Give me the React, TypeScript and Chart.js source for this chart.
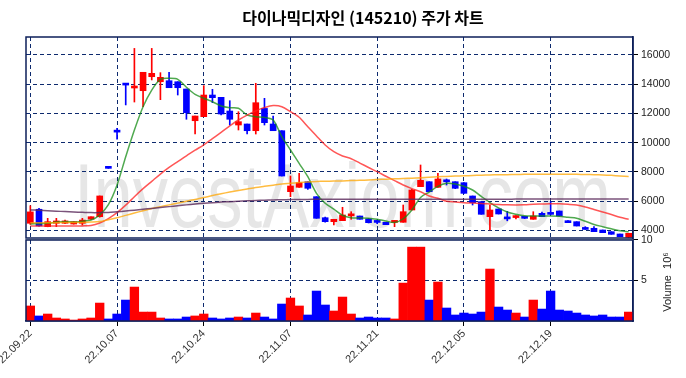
import { useEffect, useRef } from 'react';
import { Chart, registerables } from 'chart.js';

Chart.register(...registerables);

const dates = [
  '22.09.22','22.09.23','22.09.26','22.09.27','22.09.28','22.09.29','22.09.30','22.10.04','22.10.05','22.10.06',
  '22.10.07','22.10.11','22.10.12','22.10.13','22.10.14','22.10.17','22.10.18','22.10.19','22.10.20','22.10.21',
  '22.10.24','22.10.25','22.10.26','22.10.27','22.10.28','22.10.31','22.11.01','22.11.02','22.11.03','22.11.04',
  '22.11.07','22.11.08','22.11.09','22.11.10','22.11.11','22.11.14','22.11.15','22.11.16','22.11.17','22.11.18',
  '22.11.21','22.11.22','22.11.23','22.11.24','22.11.25','22.11.28','22.11.29','22.11.30','22.12.01','22.12.02',
  '22.12.05','22.12.06','22.12.07','22.12.08','22.12.09','22.12.12','22.12.13','22.12.14','22.12.15','22.12.16',
  '22.12.19','22.12.20','22.12.21','22.12.22','22.12.23','22.12.26','22.12.27','22.12.28','22.12.29','22.12.30',
];

const openPrices = [
  4480,5440,4250,4480,4480,4430,4480,4760,4930,8260,
  10740,13960,13740,13555,14513,14170,14240,14170,13670,11500,
  11776,13260,13100,12165,11207,11276,10817,12343,11276,10817,
  6642,6943,7326,6300,4862,4589,4657,4990,4979,4773,
  4560,4548,4540,4548,5389,6984,7326,6943,7340,7326,
  7258,6348,5958,4931,5458,4850,4870,4900,4753,5163,
  5110,5321,4657,4589,4080,4137,4020,3904,3747,3521,
];
const highPrices = [
  5680,5500,4820,4820,4700,4600,4820,4930,6350,8260,
  10980,13960,16450,14815,16450,14790,14815,14170,13670,11823,
  13900,13650,13100,12870,12118,11276,14062,13035,11823,10817,
  7716,7900,7326,6300,4900,4753,5574,5273,4979,4800,
  4700,4548,4650,5732,6806,8470,7326,7900,7511,7326,
  7258,6348,5958,5732,5458,5300,5000,4950,5273,5250,
  5958,5321,4657,4589,4250,4250,4020,3904,3747,3795,
];
const lowPrices = [
  4400,4290,4240,4250,4450,4420,4360,4750,4900,8240,
  10230,12580,12780,12460,14290,12940,13760,13260,11600,10590,
  11776,12734,11900,11207,10865,10590,10590,11207,10817,7716,
  6300,6943,6800,4821,4550,4363,4657,4753,4753,4500,
  4450,4383,4246,4548,5389,6984,6642,6943,7100,6850,
  6530,5730,5095,4020,5116,4650,4780,4800,4753,4931,
  5050,4979,4520,4294,4060,3904,3836,3726,3562,3500,
];
const closePrices = [
  5260,4300,4590,4640,4640,4590,4700,4930,6350,8240,
  10720,13940,13790,14815,14746,14472,13760,13760,12050,11823,
  13260,13076,11960,11600,11435,10817,12734,11365,10817,7716,
  7032,7258,6875,4821,4589,4753,5047,5010,4753,4520,
  4540,4383,4560,5273,6758,7420,6642,7511,7320,6875,
  6530,5889,5095,5389,5116,4780,4900,4820,4979,4931,
  5090,4979,4520,4294,4060,3904,3836,3726,3562,3795,
];

// volume in millions of shares
const volumes = [
  1.85,0.62,0.86,0.37,0.25,0.12,0.25,0.37,2.21,0.25,
  0.86,2.58,4.18,1.10,1.10,0.37,0.25,0.25,0.49,0.62,
  0.86,0.37,0.25,0.37,0.49,0.37,0.98,0.49,0.25,2.09,
  2.83,1.85,0.74,3.69,1.97,1.23,2.95,0.86,0.37,0.49,
  0.37,0.37,0.25,4.67,9.10,9.10,2.58,4.80,1.60,0.74,
  0.98,0.86,1.10,6.40,1.72,1.35,0.98,0.49,2.58,1.47,
  3.69,1.35,1.23,0.98,0.74,0.62,0.74,0.49,0.49,1.10,
];

const ma5 = [
  4430,4450,4480,4560,4600,4560,4620,4700,5050,5750,
  7100,9038,10865,12460,13600,14335,14400,14335,13790,13300,
  13035,12800,12508,12390,12350,11890,11776,11730,11550,10410,
  9496,8586,7670,6530,5848,5450,5030,4862,4850,4830,
  4753,4637,4530,4790,5389,6250,6620,7010,7217,7170,
  7010,6758,6320,5900,5530,5250,5100,5000,4980,4979,
  4979,4960,4890,4821,4620,4400,4246,4100,3970,3904,
];
const ma20 = [
  4294,4290,4290,4290,4290,4290,4300,4330,4500,4800,
  5205,5720,6300,6850,7350,7850,8300,8700,9100,9480,
  9850,10280,10700,11150,11550,11880,12170,12400,12540,12460,
  12118,11734,11093,10454,9838,9380,9085,8900,8600,8300,
  8011,7700,7400,7100,6850,6642,6348,6190,5990,5940,
  5890,5860,5840,5800,5760,5740,5730,5740,5780,5800,
  5820,5810,5780,5732,5600,5420,5250,5080,4890,4750,
];
const ma60 = [
  4520,4520,4520,4520,4530,4530,4540,4560,4600,4720,
  4860,5020,5180,5340,5490,5620,5740,5860,5990,6110,
  6240,6380,6500,6620,6730,6830,6930,7010,7090,7170,
  7220,7270,7310,7340,7360,7370,7380,7400,7420,7440,
  7470,7500,7520,7540,7570,7600,7630,7660,7690,7710,
  7730,7750,7770,7790,7800,7810,7820,7830,7840,7840,
  7840,7840,7840,7830,7820,7810,7790,7760,7720,7680,
];
const ma120 = [
  5390,5370,5340,5310,5280,5250,5230,5210,5210,5220,
  5270,5320,5380,5440,5500,5560,5620,5680,5740,5800,
  5850,5890,5930,5960,5990,6020,6040,6060,6080,6090,
  6100,6110,6115,6120,6120,6120,6120,6120,6120,6120,
  6120,6120,6120,6125,6125,6130,6130,6130,6130,6130,
  6130,6130,6130,6130,6130,6130,6135,6135,6135,6135,
  6135,6135,6135,6135,6135,6135,6135,6135,6135,6135,
];

const priceTicks = [4000, 6000, 8000, 10000, 12000, 14000, 16000];
const volumeTicks = [5, 10];

const TITLE = '다이나믹디자인 (145210) 주가 차트';
const WATERMARK = 'InvestAxiom.com';

const UP = '#ff0000';
const DOWN = '#0000ff';
const GRID = '#0d2a6e';
const NAVY = '#0d1f5a';
const FONT = '"Liberation Sans", Arial, sans-serif';
const DASH = [4, 3];

export default function App() {
  const ref = useRef<HTMLCanvasElement | null>(null);

  useEffect(() => {
    if (!ref.current) return;
    const colors = closePrices.map((c, i) => (c > openPrices[i] ? UP : DOWN));
    const bodies = openPrices.map((o, i) => [o, closePrices[i]]);
    const wicks = lowPrices.map((l, i) => [l, highPrices[i]]);

    const decor = {
      id: 'decor',
      beforeDraw(chart: any) {
        const { ctx } = chart;
        ctx.save();
        ctx.fillStyle = 'rgba(205,205,205,0.5)';
        ctx.font = `90px ${FONT}`;
        ctx.textAlign = 'left';
        ctx.textBaseline = 'alphabetic';
        ctx.fillText(WATERMARK, 74, 227, 537);
        ctx.restore();
      },
      afterDraw(chart: any) {
        const { ctx, chartArea } = chart;
        const p = chart.scales.yPrice;
        const v = chart.scales.yVol;
        ctx.save();
        ctx.setLineDash([]);
        ctx.strokeStyle = NAVY;
        ctx.lineWidth = 1.5;
        ctx.strokeRect(chartArea.left, p.top, chartArea.right - chartArea.left, p.bottom - p.top - 1);
        ctx.strokeStyle = '#c8c8c8';
        ctx.lineWidth = 1;
        ctx.beginPath();
        ctx.moveTo(chartArea.left, p.bottom + 0.5);
        ctx.lineTo(chartArea.right, p.bottom + 0.5);
        ctx.stroke();
        ctx.strokeStyle = NAVY;
        ctx.lineWidth = 1.5;
        ctx.strokeRect(chartArea.left, v.top + 1, chartArea.right - chartArea.left, v.bottom - v.top - 1);
        // title
        ctx.fillStyle = '#000';
        ctx.font = `bold 16px "Noto Sans CJK KR", sans-serif`;
        ctx.textAlign = 'center';
        ctx.textBaseline = 'middle';
        ctx.fillText(TITLE, 363, 18);
        // volume axis title
        ctx.translate(668, 282);
        ctx.rotate(-Math.PI / 2);
        ctx.font = `11px ${FONT}`;
        ctx.fillStyle = '#222';
        ctx.fillText('Volume  10⁶', 0, 0);
        ctx.restore();
      },
    };

    const lineDs = (data: number[], color: string) => ({
      type: 'line' as const,
      data,
      yAxisID: 'yPrice',
      borderColor: color,
      borderWidth: 1.5,
      pointRadius: 0,
      tension: 0.3,
      fill: false,
      order: 0,
    });

    const gridOpts = {
      color: GRID,
      lineWidth: 1,
      drawTicks: true,
      tickLength: 5,
      tickColor: '#000',
      tickBorderDash: [],
      borderDash: DASH,
    } as any;
    const borderOpts = { display: true, color: NAVY, width: 1.5, dash: DASH };

    const chart = new Chart(ref.current, {
      type: 'bar',
      data: {
        labels: dates,
        datasets: [
          lineDs(ma120, 'rgba(90,40,90,0.8)'),
          lineDs(ma60, 'rgba(255,165,0,0.75)'),
          lineDs(ma20, 'rgba(255,30,30,0.75)'),
          lineDs(ma5, 'rgba(20,140,20,0.75)'),
          {
            type: 'bar',
            data: bodies as any,
            yAxisID: 'yPrice',
            backgroundColor: colors,
            borderWidth: 0,
            barThickness: 6,
            minBarLength: 2,
            grouped: false,
            order: 2,
          },
          {
            type: 'bar',
            data: wicks as any,
            yAxisID: 'yPrice',
            backgroundColor: colors,
            borderWidth: 0,
            barThickness: 1,
            grouped: false,
            order: 3,
          },
          {
            type: 'bar',
            data: volumes,
            yAxisID: 'yVol',
            backgroundColor: colors,
            borderWidth: 0,
            barPercentage: 1,
            categoryPercentage: 1,
            grouped: false,
            order: 4,
          },
        ],
      },
      options: {
        responsive: false,
        animation: false,
        devicePixelRatio: 1,
        layout: { padding: { top: 37, left: 26, right: 0, bottom: 0 } },
        plugins: { legend: { display: false }, tooltip: { enabled: false }, title: { display: false } },
        scales: {
          x: {
            type: 'category',
            offset: true,
            grid: { ...gridOpts, offset: false },
            border: borderOpts,
            ticks: {
              autoSkip: false,
              maxRotation: 45,
              minRotation: 45,
              padding: 1,
              color: '#333',
              font: { family: FONT, size: 11 },
              callback: (_v: any, i: number) => (i % 10 === 0 ? dates[i] : null),
            },
            afterFit: (s: any) => {
              s.height = 57;
              s.paddingLeft = 0;
              s.paddingRight = 0;
            },
          },
          yPrice: {
            type: 'linear',
            position: 'right',
            stack: 'panels',
            stackWeight: 202,
            min: 3404,
            max: 17231,
            afterBuildTicks: (s: any) => {
              s.ticks = priceTicks.map((value) => ({ value }));
            },
            grid: gridOpts,
            border: borderOpts,
            ticks: {
              padding: 3,
              color: '#222',
              font: { family: FONT, size: 10.5 },
              callback: (v: any) => String(v),
            },
            afterFit: (s: any) => {
              s.width = 53;
            },
          },
          yVol: {
            type: 'linear',
            position: 'right',
            stack: 'panels',
            stackWeight: 82,
            min: 0,
            max: 10.1,
            afterBuildTicks: (s: any) => {
              s.ticks = volumeTicks.map((value) => ({ value }));
            },
            grid: gridOpts,
            border: borderOpts,
            ticks: {
              padding: 3,
              color: '#222',
              font: { family: FONT, size: 10.5 },
              callback: (v: any) => String(v),
            },
            afterFit: (s: any) => {
              s.width = 53;
            },
          },
        },
      } as any,
      plugins: [decor],
    });
    return () => chart.destroy();
  }, []);

  return (
    <div style={{ position: 'absolute', left: 0, top: 0, width: 686, height: 378, background: '#fff' }}>
      <canvas ref={ref} width={686} height={378} style={{ width: 686, height: 378, display: 'block' }} />
    </div>
  );
}
